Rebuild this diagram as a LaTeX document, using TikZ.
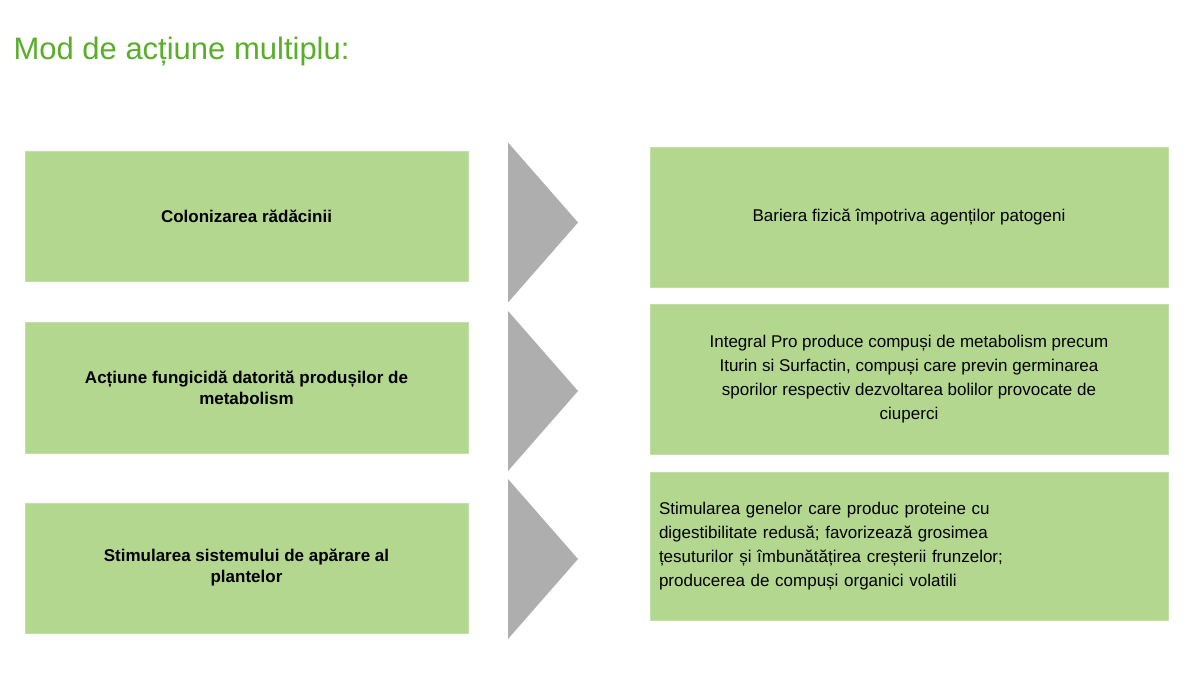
\documentclass[tikz,border=0pt]{standalone}
\usepackage{fontspec}
\setmainfont{Liberation Sans}
\definecolor{boxgreen}{HTML}{B3D78F}
\definecolor{titlegreen}{HTML}{5AAE2A}
\definecolor{arrowgray}{HTML}{AEAEAE}
\tikzset{
  leftbox/.style={fill=boxgreen, draw=boxgreen!80!white, minimum width=443pt, minimum height=130pt, align=center, font=\fontsize{17}{21}\selectfont\bfseries},
  rightbox/.style={fill=boxgreen, draw=boxgreen!80!white, minimum width=518pt, minimum height=140pt, font=\fontsize{17}{24}\selectfont},
  chevron/.style={fill=arrowgray, draw=none}
}
\begin{document}
\begin{tikzpicture}[x=1pt,y=-1pt]
  \useasboundingbox[fill=white] (0,0) rectangle (1200,675);
  \node[anchor=west, text=titlegreen, font=\fontsize{31}{36}\selectfont] (title) at (10,52) {Mod de acțiune multiplu:};
  % left column
  \node[leftbox] (col) at (246.5,216) {Colonizarea rădăcinii};
  \node[leftbox, minimum height=131pt] (fung) at (246.5,387.5) {Acțiune fungicidă datorită produșilor de\\metabolism};
  \node[leftbox] (stim) at (246.5,568) {Stimularea sistemului de apărare al\\plantelor};
  % arrows
  \foreach \y/\n in {222.5/a1, 391/a2, 559/a3} {
    \coordinate (\n) at (543,\y);
    \fill[chevron] (508,\y-80) -- (578,\y) -- (508,\y+80) -- cycle;
  }
  % right column
  \node[rightbox] (bar) at (909,217.5) {Bariera fizică împotriva agenților patogeni};
  \node[rightbox, minimum height=150pt, align=center] (integ) at (909,379) {Integral Pro produce compuși de metabolism precum\\Iturin si Surfactin, compuși care previn germinarea\\sporilor respectiv dezvoltarea bolilor provocate de\\ciuperci};
  \node[rightbox, minimum height=148pt, align=left, text width=500pt] (gene) at (909,546) {Stimularea genelor care produc proteine cu\\digestibilitate redusă; favorizează grosimea\\țesuturilor și îmbunătățirea creșterii frunzelor;\\producerea de compuși organici volatili\\[30pt]};
\end{tikzpicture}
\end{document}
